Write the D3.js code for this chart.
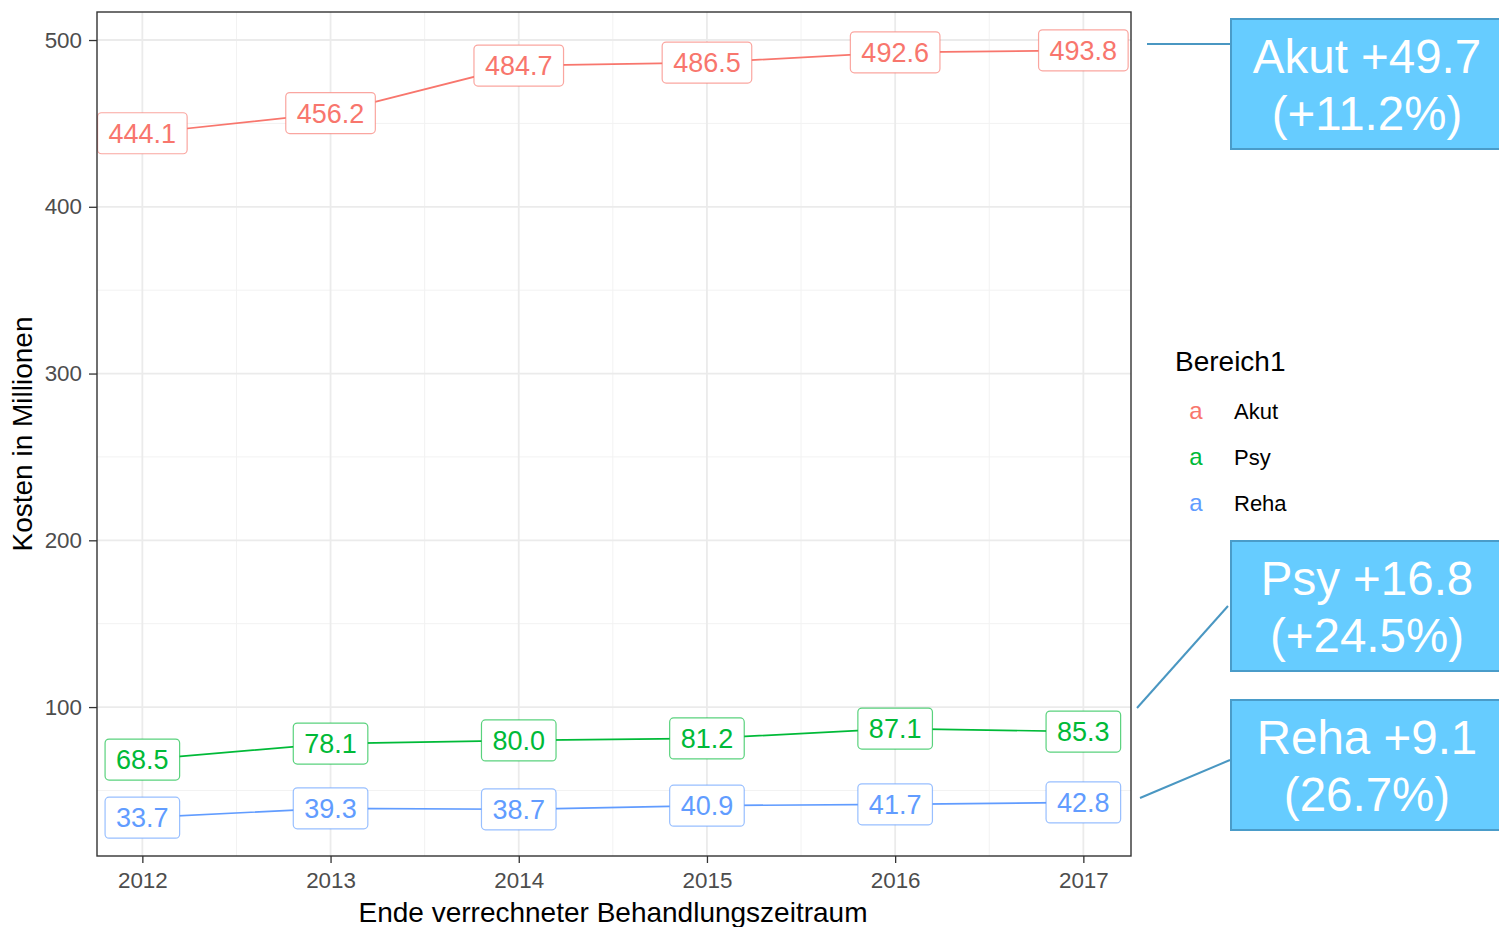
<!DOCTYPE html>
<html><head><meta charset="utf-8">
<script src="https://cdn.jsdelivr.net/npm/d3@7"></script>
<style>body{margin:0;background:#fff}svg{display:block;font-family:Arial,"Liberation Sans",sans-serif}</style>
</head><body><svg id="c" width="1499" height="927"></svg>
<script>
const years = [2012, 2013, 2014, 2015, 2016, 2017];
const akut = [444.1, 456.2, 484.7, 486.5, 492.6, 493.8];
const psy  = [68.5, 78.1, 80.0, 81.2, 87.1, 85.3];
const reha = [33.7, 39.3, 38.7, 40.9, 41.7, 42.8];
const seriesNames = ["Akut", "Psy", "Reha"];
const seriesColors = ["#F8766D", "#00BA38", "#619CFF"];
const yTicks = [100, 200, 300, 400, 500];
const yMinor = [50, 150, 250, 350, 450];
const xMinor = [2012.5, 2013.5, 2014.5, 2015.5, 2016.5];
const annLines1 = ["Akut +49.7", "Psy +16.8", "Reha +9.1"];
const annLines2 = ["(+11.2%)", "(+24.5%)", "(26.7%)"];

const svg = d3.select("#c");
const L = 97, R = 1131, T = 12, B = 856;
const all = akut.concat(psy, reha);
const ymin = d3.min(all), ymax = d3.max(all), yr = ymax - ymin;
const x = d3.scaleLinear().domain([2011.75, 2017.25]).range([95.3, 1130.4]);
const y = d3.scaleLinear().domain([ymin - 0.05 * yr, ymax + 0.05 * yr]).range([B, T]);

// grid
const g = svg.append("g");
g.selectAll(".ym").data(yMinor).join("line").attr("x1", L).attr("x2", R)
  .attr("y1", d => y(d)).attr("y2", d => y(d)).attr("stroke", "#F2F2F2").attr("stroke-width", 1);
g.selectAll(".xm").data(xMinor).join("line").attr("y1", T).attr("y2", B)
  .attr("x1", d => x(d)).attr("x2", d => x(d)).attr("stroke", "#F2F2F2").attr("stroke-width", 1);
g.selectAll(".yM").data(yTicks).join("line").attr("x1", L).attr("x2", R)
  .attr("y1", d => y(d)).attr("y2", d => y(d)).attr("stroke", "#EBEBEB").attr("stroke-width", 1.8);
g.selectAll(".xM").data(years).join("line").attr("y1", T).attr("y2", B)
  .attr("x1", d => x(d)).attr("x2", d => x(d)).attr("stroke", "#EBEBEB").attr("stroke-width", 1.8);

// axes
const xa = svg.append("g").attr("transform", `translate(0,${B})`)
  .call(d3.axisBottom(x).tickValues(years).tickFormat(d3.format("d")).tickSize(7).tickSizeOuter(0));
const ya = svg.append("g").attr("transform", `translate(${L},0)`)
  .call(d3.axisLeft(y).tickValues(yTicks).tickSize(8).tickSizeOuter(0));
[xa, ya].forEach(a => {
  a.select(".domain").remove();
  a.selectAll("line").attr("stroke", "#333").attr("stroke-width", 1.3);
  a.selectAll("text").attr("fill", "#4D4D4D").style("font-size", "22.4px").style("font-family", "Arial, 'Liberation Sans', sans-serif");
});
xa.selectAll("text").attr("dy", "0.71em").attr("y", 16);
ya.selectAll("text").attr("x", -15);

// lines
const seriesData = [akut, psy, reha];
const line = d3.line().x((d, i) => x(years[i])).y(d => y(d));
seriesData.forEach((s, k) => {
  svg.append("path").attr("d", line(s)).attr("fill", "none")
    .attr("stroke", seriesColors[k]).attr("stroke-width", 1.7);
});

// labels
seriesData.forEach((s, k) => {
  s.forEach((v, i) => {
    const gg = svg.append("g").attr("transform", `translate(${x(years[i])},${y(v)})`);
    const rect = gg.append("rect");
    const t = gg.append("text").attr("text-anchor", "middle").attr("y", 9.5)
      .attr("fill", seriesColors[k]).style("font-size", "27px").text(v.toFixed(1));
    const w = t.node().getComputedTextLength() + 22;
    rect.attr("x", -w / 2).attr("y", -20.5).attr("width", w).attr("height", 41)
      .attr("rx", 4).attr("fill", "#fff").attr("stroke", seriesColors[k])
      .attr("stroke-opacity", 0.65).attr("stroke-width", 1.2);
  });
});

// panel border
svg.append("rect").attr("x", L).attr("y", T).attr("width", R - L).attr("height", B - T)
  .attr("fill", "none").attr("stroke", "#333").attr("stroke-width", 1.4);

// axis titles
svg.append("text").attr("x", 613).attr("y", 922).attr("text-anchor", "middle")
  .style("font-size", "28px").attr("fill", "#000").text("Ende verrechneter Behandlungszeitraum");
svg.append("text").attr("transform", `translate(32,434) rotate(-90)`).attr("text-anchor", "middle")
  .style("font-size", "28px").attr("fill", "#000").text("Kosten in Millionen");

// legend
const lg = svg.append("g");
lg.append("text").attr("x", 1175).attr("y", 371).style("font-size", "28px").text("Bereich1");
seriesNames.forEach((n, k) => {
  const yy = 419 + k * 46;
  lg.append("text").attr("x", 1196).attr("y", yy).attr("text-anchor", "middle")
    .attr("fill", seriesColors[k]).style("font-size", "24px").text("a");
  lg.append("text").attr("x", 1234).attr("y", yy).style("font-size", "22px").text(n);
});

// annotations
const boxTop = [19, 541, 700];
const lineStart = [[1147, 44], [1137, 708], [1140, 798]];
const lineEnd = [[1231, 44], [1228, 606], [1230, 760]];
const boxX = 1231, boxW = 272, boxH = 130;
boxTop.forEach((bt, k) => {
  svg.append("line").attr("x1", lineStart[k][0]).attr("y1", lineStart[k][1])
    .attr("x2", lineEnd[k][0]).attr("y2", lineEnd[k][1])
    .attr("stroke", "#4A97C2").attr("stroke-width", 2);
  svg.append("rect").attr("x", boxX).attr("y", bt).attr("width", boxW).attr("height", boxH)
    .attr("fill", "#66CCFF").attr("stroke", "#4A9CC9").attr("stroke-width", 2);
  const cx = boxX + boxW / 2;
  svg.append("text").attr("x", cx).attr("y", bt + 54).attr("text-anchor", "middle")
    .attr("fill", "#fff").style("font-size", "47.5px").text(annLines1[k]);
  svg.append("text").attr("x", cx).attr("y", bt + 111).attr("text-anchor", "middle")
    .attr("fill", "#fff").style("font-size", "47.5px").text(annLines2[k]);
});
</script></body></html>
